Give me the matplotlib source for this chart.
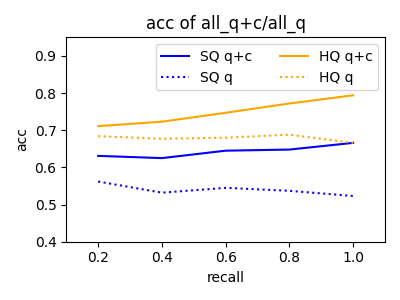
import matplotlib
matplotlib.use("Agg")
import matplotlib.pyplot as plt

recall = [0.2, 0.4, 0.6, 0.8, 1.0]
sq_qc = [0.631, 0.625, 0.645, 0.648, 0.666]
sq_q = [0.562, 0.532, 0.545, 0.537, 0.523]
hq_qc = [0.711, 0.723, 0.747, 0.772, 0.794]
hq_q = [0.684, 0.677, 0.680, 0.688, 0.666]

fig, ax = plt.subplots(figsize=(4, 3), dpi=100)
ax.plot(recall, sq_qc, color="blue", linestyle="-", label="SQ q+c")
ax.plot(recall, sq_q, color="blue", linestyle=":", label="SQ q")
ax.plot(recall, hq_qc, color="orange", linestyle="-", label="HQ q+c")
ax.plot(recall, hq_q, color="orange", linestyle=":", label="HQ q")
ax.set_xlim(0.1, 1.1)
ax.set_ylim(0.4, 0.95)
ax.set_xticks([0.2, 0.4, 0.6, 0.8, 1.0])
ax.set_xlabel("recall")
ax.set_ylabel("acc")
ax.set_title("acc of all_q+c/all_q")
ax.legend(ncol=2, loc="upper right")
fig.tight_layout()
fig.savefig("out.png")
